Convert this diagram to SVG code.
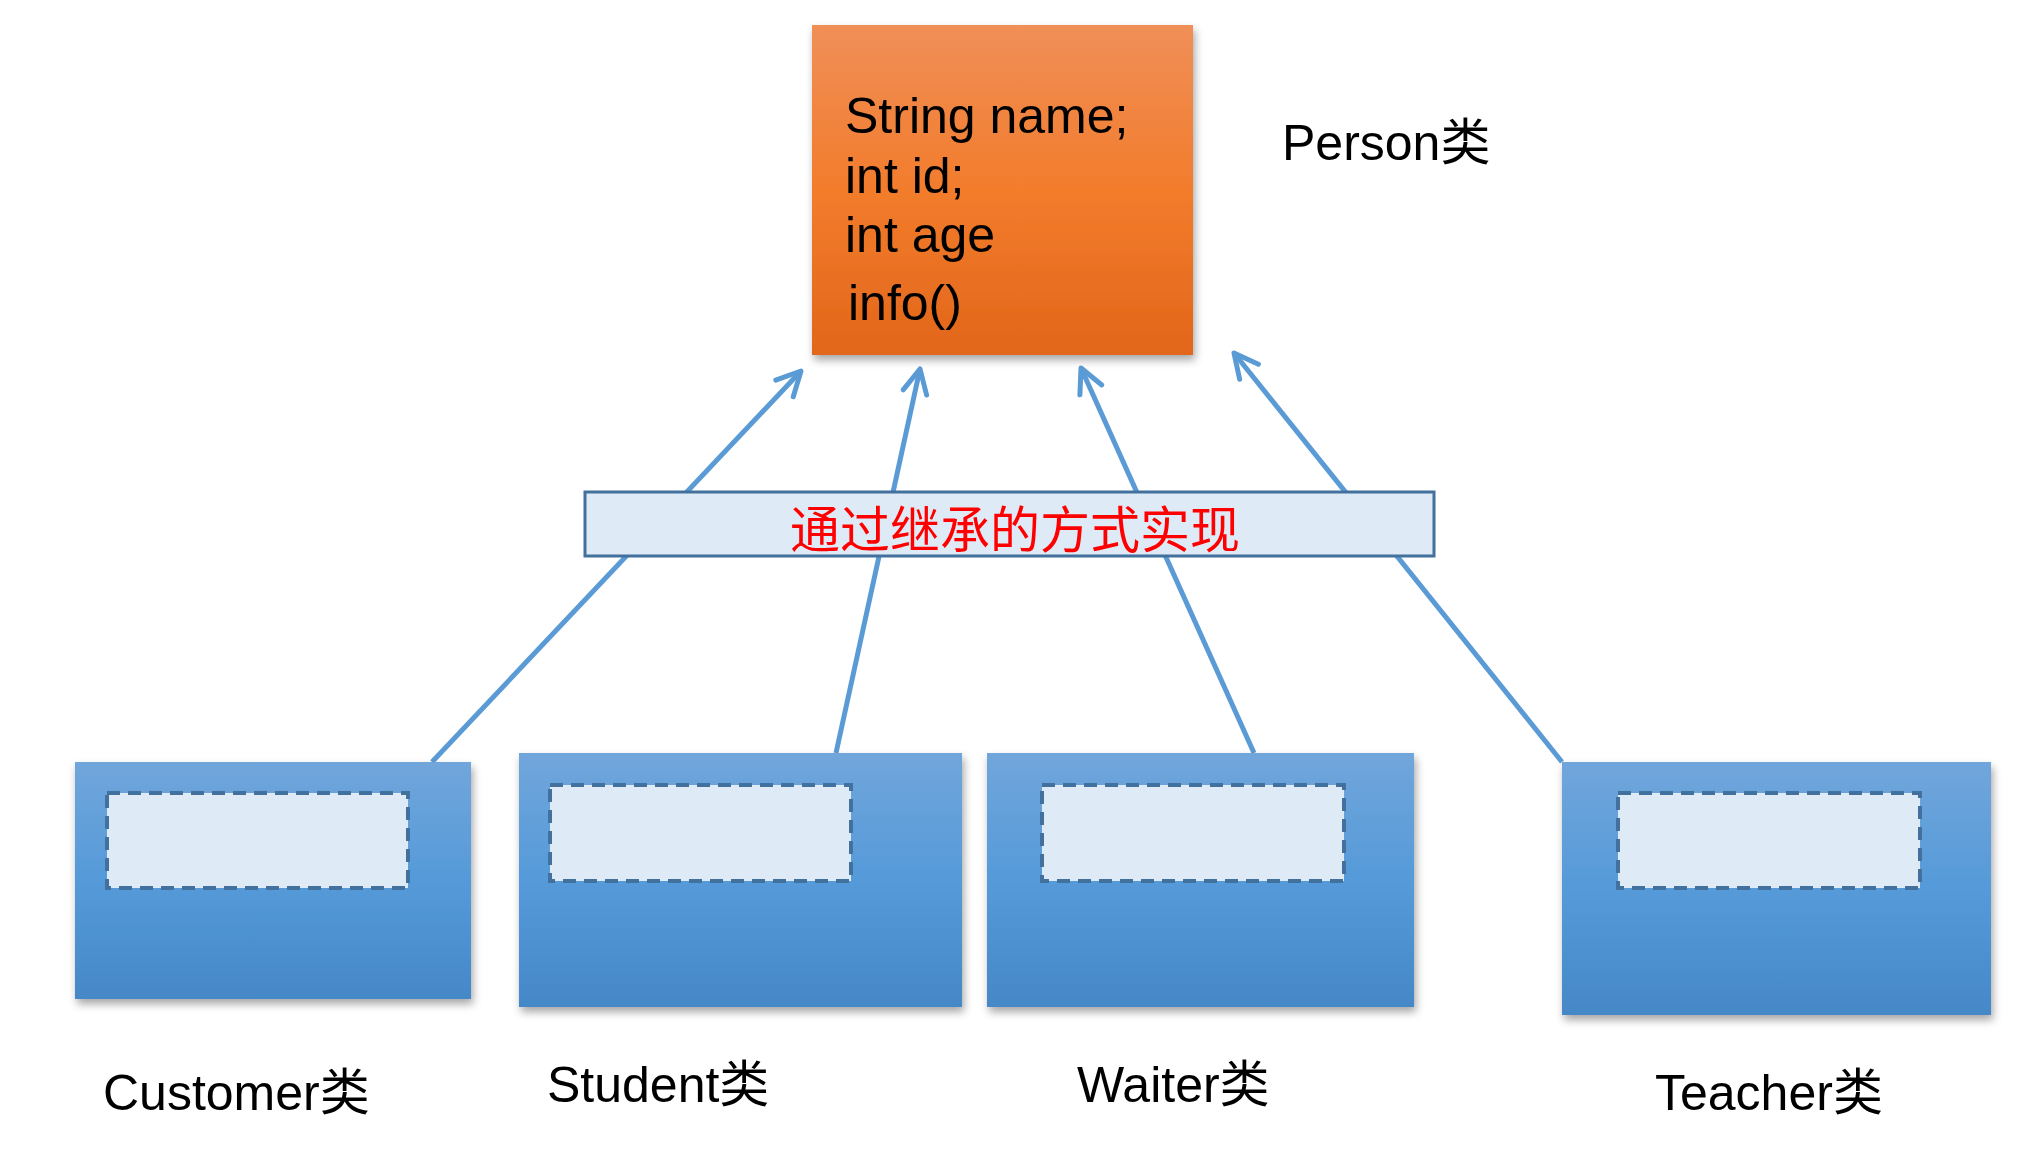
<svg xmlns="http://www.w3.org/2000/svg" width="2022" height="1150" viewBox="0 0 2022 1150">
<style>
.lbl{font-family:"Liberation Sans","Noto Sans CJK SC",sans-serif;font-size:50px;fill:#000}
.conn{stroke:#5B9BD5;stroke-width:5;fill:none;marker-end:url(#arr)}
.sub{fill:url(#blueG);filter:url(#sh)}
.inner{fill:#DEEAF6;stroke:#41719C;stroke-width:4;stroke-dasharray:13 8}
</style>
<defs>
<linearGradient id="orangeG" x1="0" y1="0" x2="0" y2="1">
<stop offset="0" stop-color="#F08F58"/>
<stop offset="0.5" stop-color="#F27C2C"/>
<stop offset="1" stop-color="#E2661A"/>
</linearGradient>
<linearGradient id="blueG" x1="0" y1="0" x2="0" y2="1">
<stop offset="0" stop-color="#71A6DB"/>
<stop offset="0.5" stop-color="#559AD9"/>
<stop offset="1" stop-color="#4588C7"/>
</linearGradient>
<filter id="sh" x="-10%" y="-10%" width="125%" height="130%">
<feDropShadow dx="2" dy="5" stdDeviation="4" flood-color="#000" flood-opacity="0.35"/>
</filter>
<marker id="arr" markerUnits="userSpaceOnUse" markerWidth="40" markerHeight="40" viewBox="-35 -20 40 40" refX="0" refY="0" orient="auto">
<path d="M-24,-12 L0,0 L-24,12" fill="none" stroke="#5B9BD5" stroke-width="5" stroke-linecap="round" stroke-linejoin="round"/>
</marker>
</defs>
<rect width="2022" height="1150" fill="#fff"/>
<g id="connectors">
<line class="conn" x1="432" y1="762" x2="801" y2="371"/>
<line class="conn" x1="836" y1="753" x2="920" y2="369"/>
<line class="conn" x1="1254" y1="753" x2="1081" y2="368"/>
<line class="conn" x1="1562" y1="762" x2="1234" y2="353"/>
</g>
<g id="person">
<rect x="812" y="25" width="381" height="330" fill="url(#orangeG)" filter="url(#sh)"/>
<text class="lbl" x="845" y="133">String name;</text>
<text class="lbl" x="845" y="193">int id;</text>
<text class="lbl" x="845" y="252">int age</text>
<text class="lbl" x="848" y="320">info()</text>
</g>
<g id="person-label">
<text class="lbl" x="1282" y="160">Person类</text>
</g>
<g id="inherit">
<rect x="585" y="492" width="849" height="64" fill="#DEEAF6" stroke="#41719C" stroke-width="3"/>
<text x="1015" y="548" text-anchor="middle" font-family="'Noto Sans CJK SC',sans-serif" font-size="50" fill="#FF0000">通过继承的方式实现</text>
</g>
<g id="customer">
<rect class="sub" x="75" y="762" width="396" height="237"/>
<rect class="inner" x="107" y="793" width="301" height="95"/>
<text class="lbl" x="103" y="1110">Customer类</text>
</g>
<g id="student">
<rect class="sub" x="519" y="753" width="443" height="254"/>
<rect class="inner" x="550" y="785" width="301" height="96"/>
<text class="lbl" x="547" y="1102">Student类</text>
</g>
<g id="waiter">
<rect class="sub" x="987" y="753" width="427" height="254"/>
<rect class="inner" x="1042" y="785" width="302" height="96"/>
<text class="lbl" x="1077" y="1102">Waiter类</text>
</g>
<g id="teacher">
<rect class="sub" x="1562" y="762" width="429" height="253"/>
<rect class="inner" x="1618" y="793" width="302" height="95"/>
<text class="lbl" x="1655" y="1110">Teacher类</text>
</g>
</svg>
